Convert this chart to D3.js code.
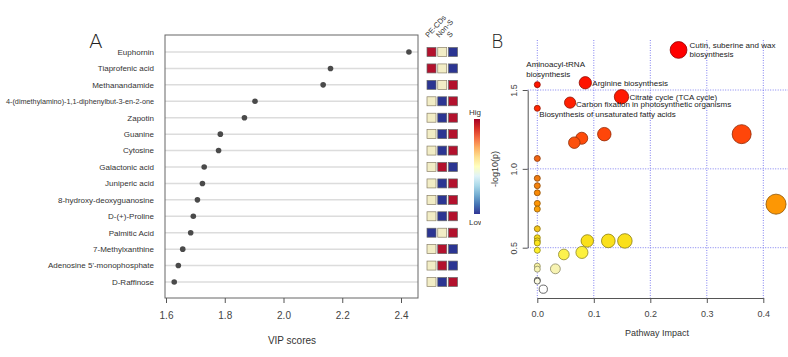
<!DOCTYPE html>
<html>
<head>
<meta charset="utf-8">
<script src="https://cdn.jsdelivr.net/npm/d3@7"></script>
<style>
  body { margin: 0; background: #fff; }
  text { font-family: "Liberation Sans", Arial, sans-serif; }
</style>
</head>
<body>
<svg id="chart" width="788" height="357"></svg>
<script>
// ---- panel A data ----
var compounds = ["Euphornin", "Tiaprofenic acid", "Methanandamide",
  "4-(dimethylamino)-1,1-diphenylbut-3-en-2-one", "Zapotin", "Guanine", "Cytosine",
  "Galactonic acid", "Juniperic acid", "8-hydroxy-deoxyguanosine", "D-(+)-Proline",
  "Palmitic Acid", "7-Methylxanthine", "Adenosine 5'-monophosphate", "D-Raffinose"];
var vipScores = [2.427, 2.16, 2.135, 1.903, 1.867, 1.785, 1.779, 1.73, 1.724,
  1.707, 1.693, 1.684, 1.657, 1.642, 1.628];
var groups = ["PE-CDs", "Non-S", "S"];
// relative level per group: 1 high, 0 mid, -1 low
var levels = [
  [1, 0, -1], [1, 0, -1], [-1, 0, 1], [0, -1, 1], [0, -1, 1],
  [0, -1, 1], [0, -1, 1], [0, 1, -1], [0, -1, 1], [0, -1, 1],
  [0, -1, 1], [-1, 0, 1], [0, 1, -1], [0, 1, -1], [0, -1, 1]
];
var vipTicks = [1.6, 1.8, 2.0, 2.2, 2.4];

// ---- panel B data ----
var pathImpact = [0.25, 0.085, 0, 0.149, 0.058, 0,
  0.0655, 0.0786, 0.1186, 0.3617, 0, 0.4225,
  0, 0, 0, 0, 0, 0, 0, 0, 0, 0, 0, 0, 0, 0,
  0.0885, 0.1257, 0.155, 0.079, 0.047, 0.032, 0.0106];
var pathLogP = [1.754, 1.546, 1.534, 1.457, 1.42, 1.384,
  1.166, 1.194, 1.22, 1.22, 1.066, 0.776,
  0.94, 0.893, 0.848, 0.781, 0.745, 0.62, 0.563, 0.543, 0.53, 0.484, 0.383, 0.364, 0.294, 0.288,
  0.543, 0.543, 0.543, 0.47, 0.457, 0.366, 0.237];
var pathNames = ["Cutin, suberine and wax\nbiosynthesis", "Arginine biosynthesis",
  "Aminoacyl-tRNA\nbiosynthesis", "Citrate cycle (TCA cycle)",
  "Carbon fixation in photosynthetic organisms", "Biosynthesis of unsaturated fatty acids"];
var impactTicks = [0, 0.1, 0.2, 0.3, 0.4];
var logpTicks = [0.5, 1.0, 1.5];

var svg = d3.select("#chart");

// ================= Panel A =================
var boxA = { left: 165, right: 418, top: 35, bottom: 298 };

var x = d3.scaleLinear().domain([1.6, 2.4]).range([166, 401]);
var y = d3.scalePoint().domain(compounds).range([52, 282]);

svg.append("text")
  .attr("x", 89).attr("y", 48)
  .attr("font-size", 20).attr("fill", "#222")
  .style("font-family", "DejaVu Sans").style("font-weight", 200)
  .text("A");

// row grid lines
svg.append("g").selectAll("line").data(compounds).join("line")
  .attr("x1", boxA.left).attr("x2", boxA.right)
  .attr("y1", (d) => y(d)).attr("y2", (d) => y(d))
  .attr("stroke", "#dcdcdc").attr("stroke-width", 1.5);

svg.append("rect")
  .attr("x", boxA.left).attr("y", boxA.top)
  .attr("width", boxA.right - boxA.left).attr("height", boxA.bottom - boxA.top)
  .attr("fill", "none").attr("stroke", "#666").attr("stroke-width", 1);

// compound names (squeeze any that would run off the left edge)
svg.append("g").selectAll("text").data(compounds).join("text")
  .attr("x", 154).attr("y", (d) => y(d)).attr("dy", "0.35em")
  .attr("text-anchor", "end").attr("font-size", 8).attr("fill", "#333")
  .text((d) => d)
  .each(function () {
    if (this.getComputedTextLength() > 148) {
      d3.select(this).attr("textLength", 148).attr("lengthAdjust", "spacingAndGlyphs");
    }
  });

// dots
svg.append("g").selectAll("circle").data(compounds).join("circle")
  .attr("cx", (d, i) => x(vipScores[i])).attr("cy", (d) => y(d))
  .attr("r", 2.8).attr("fill", "#4a4a4a");

// x axis
var axA = svg.append("g").attr("transform", "translate(0," + boxA.bottom + ")")
  .call(d3.axisBottom(x).tickValues(vipTicks).tickFormat(d3.format(".1f")).tickSize(5).tickPadding(9));
axA.select(".domain").remove();
axA.selectAll("line").attr("stroke", "#555");
axA.selectAll("text").attr("font-size", 10).attr("fill", "#444")
  .style("font-family", "Liberation Sans");

svg.append("text")
  .attr("x", 292).attr("y", 344).attr("text-anchor", "middle")
  .attr("font-size", 10).attr("fill", "#333").text("VIP scores");

// heat squares
var colX = d3.scalePoint().domain(groups).range([431.5, 453]);
var levelColor = d3.scaleOrdinal().domain([1, 0, -1]).range(["#b3112d", "#f2edc6", "#2b3592"]);

var cells = [];
compounds.forEach(function (c, i) {
  groups.forEach(function (g, j) {
    cells.push({ c: c, g: g, v: levels[i][j] });
  });
});
svg.append("g").selectAll("rect").data(cells).join("rect")
  .attr("x", (d) => colX(d.g) - 4.5).attr("y", (d) => y(d.c) - 4.5)
  .attr("width", 9).attr("height", 9)
  .attr("fill", (d) => levelColor(d.v))
  .attr("stroke", (d) => d.v === 0 ? "#8a8068" : "#666")
  .attr("stroke-width", 0.7);

svg.append("g").selectAll("text").data(groups).join("text")
  .attr("transform", (d) => "translate(" + (colX(d) - 3) + ",38) rotate(-48)")
  .attr("font-size", 7.5).attr("fill", "#333")
  .text((d) => d);

// colour bar (partially hidden behind panel B)
var clip = svg.append("clipPath").attr("id", "clipA");
clip.append("rect").attr("x", 0).attr("y", 0).attr("width", 481).attr("height", 357);

var grad = svg.append("defs").append("linearGradient").attr("id", "heatGrad")
  .attr("x1", 0).attr("y1", 1).attr("x2", 0).attr("y2", 0);
var gradStops = ["#313695", "#4575b4", "#74add1", "#abd9e9", "#e0f3f8", "#ffffbf",
  "#fee090", "#fdae61", "#f46d43", "#d73027", "#a50026"];
grad.selectAll("stop").data(gradStops).join("stop")
  .attr("offset", (d, i) => i / (gradStops.length - 1))
  .attr("stop-color", (d) => d);

var cb = svg.append("g").attr("clip-path", "url(#clipA)");
cb.append("rect").attr("x", 474).attr("y", 119).attr("width", 6).attr("height", 95)
  .attr("fill", "url(#heatGrad)");
cb.append("text").attr("x", 469).attr("y", 115).attr("font-size", 8).attr("fill", "#333").text("High");
cb.append("text").attr("x", 469).attr("y", 225).attr("font-size", 8).attr("fill", "#333").text("Low");

// ================= Panel B =================
var xB = d3.scaleLinear().domain([0, 0.4]).range([537.3, 763.3]);
var yB = d3.scaleLinear().domain([0.5, 1.5]).range([247.7, 90]);
var rB = d3.scaleSqrt().domain([0, 0.42]).range([3, 10]);
var heat = d3.scaleLinear()
  .domain([0.24, 0.37, 0.5, 0.62, 0.8, 1.0, 1.2, 1.45, 1.75])
  .range(["#ffffff", "#f7f3b0", "#fff01a", "#f2c41c", "#ff9000", "#e8721a", "#ff4a0a", "#ff1a00", "#ff0000"]);

var plotB = { left: 527.7, top: 40, bottom: 298, right: 800 };

svg.append("text")
  .attr("x", 491).attr("y", 48)
  .attr("font-size", 19).attr("fill", "#222")
  .style("font-family", "DejaVu Sans").style("font-weight", 200)
  .text("B");

// dotted grid
svg.append("g").selectAll("line").data(impactTicks).join("line")
  .attr("x1", (d) => xB(d)).attr("x2", (d) => xB(d))
  .attr("y1", plotB.top).attr("y2", plotB.bottom)
  .attr("stroke", "#8080f0").attr("stroke-width", 1).attr("stroke-dasharray", "1,1.5");
svg.append("g").selectAll("line").data(logpTicks).join("line")
  .attr("x1", plotB.left).attr("x2", plotB.right)
  .attr("y1", (d) => yB(d)).attr("y2", (d) => yB(d))
  .attr("stroke", "#8080f0").attr("stroke-width", 1).attr("stroke-dasharray", "1,1.5");

// axes
var axBx = svg.append("g").attr("transform", "translate(0," + plotB.bottom + ")")
  .call(d3.axisBottom(xB).tickValues(impactTicks).tickFormat(d3.format(".1f")).tickSize(5).tickPadding(8).tickSizeOuter(0));
axBx.select(".domain").attr("stroke", "#555");
axBx.selectAll("line").attr("stroke", "#555");
axBx.selectAll("text").attr("font-size", 9).attr("fill", "#444");

var axBy = svg.append("g").attr("transform", "translate(" + plotB.left + ",0)")
  .call(d3.axisLeft(yB).tickValues(logpTicks).tickFormat(d3.format(".1f")).tickSize(5).tickSizeOuter(0));
axBy.select(".domain").attr("stroke", "#555");
axBy.selectAll("line").attr("stroke", "#555");
axBy.selectAll("text")
  .attr("font-size", 9).attr("fill", "#444")
  .attr("text-anchor", "middle").attr("dy", null)
  .attr("x", null)
  .attr("transform", "translate(-11,0) rotate(-90)");

svg.append("text")
  .attr("transform", "translate(498,169) rotate(-90)")
  .attr("text-anchor", "middle").attr("font-size", 9).attr("fill", "#333")
  .text("-log10(p)");
svg.append("text")
  .attr("x", 657).attr("y", 336).attr("text-anchor", "middle")
  .attr("font-size", 9).attr("fill", "#333").text("Pathway Impact");

// bubbles (draw larger first)
var idx = d3.range(pathImpact.length).sort((a, b) => pathImpact[b] - pathImpact[a]);
svg.append("g").selectAll("circle").data(idx).join("circle")
  .attr("cx", (i) => xB(pathImpact[i])).attr("cy", (i) => yB(pathLogP[i]))
  .attr("r", (i) => rB(pathImpact[i]))
  .attr("fill", (i) => heat(pathLogP[i]))
  .attr("stroke", (i) => pathLogP[i] < 0.33 ? "#444" : d3.color(heat(pathLogP[i])).darker(1.6))
  .attr("stroke-width", 0.8);

// pathway labels
var labelPlace = [
  { dx: 11, dy: -5, anchor: "start" },
  { dx: 7, dy: 0, anchor: "start" },
  { dx: -11, dy: -20, anchor: "start" },
  { dx: 8, dy: 0, anchor: "start" },
  { dx: 6, dy: 2, anchor: "start" },
  { dx: 2, dy: 6, anchor: "start" }
];
var lab = svg.append("g");
pathNames.forEach(function (name, i) {
  var p = labelPlace[i];
  var t = lab.append("text")
    .attr("x", xB(pathImpact[i]) + p.dx)
    .attr("y", yB(pathLogP[i]) + p.dy)
    .attr("text-anchor", p.anchor)
    .attr("font-size", 8).attr("fill", "#222");
  name.split("\n").forEach(function (line, k) {
    t.append("tspan")
      .attr("x", xB(pathImpact[i]) + p.dx)
      .attr("dy", k === 0 ? "0.35em" : "1.15em")
      .text(line);
  });
});
</script>
</body>
</html>
